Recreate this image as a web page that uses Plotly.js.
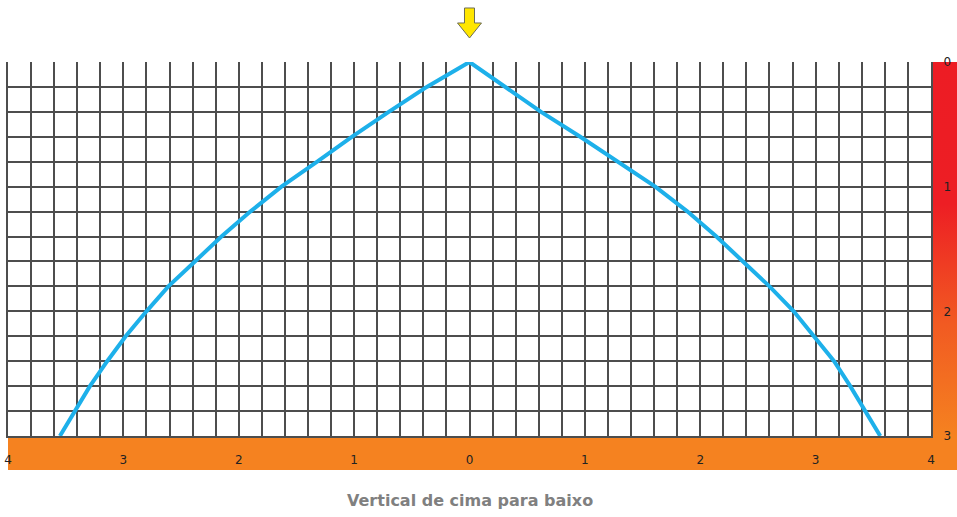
<!DOCTYPE html>
<html>
<head>
<meta charset="utf-8">
<script src="https://cdn.plot.ly/plotly-3.0.1.min.js"></script>
<style>html,body{margin:0;padding:0;background:#fff;}#chart{width:957px;height:517px;}</style>
</head>
<body>
<div id="chart"></div>
<script>
// Depth (vertical, from top to bottom) and horizontal positions of the curve
const depthLevels = [0, 0.2, 0.4, 0.6, 0.8, 1.0, 1.2, 1.4, 1.6, 1.8, 2.0, 2.2, 2.4, 2.6, 2.8, 3.0];
const leftX  = [0, -0.37, -0.70, -1.02, -1.32, -1.63, -1.90, -2.15, -2.38, -2.61, -2.80, -2.98, -3.14, -3.29, -3.42, -3.55];
const rightX = [0, 0.31, 0.62, 0.96, 1.28, 1.61, 1.89, 2.14, 2.37, 2.60, 2.81, 2.99, 3.16, 3.30, 3.43, 3.56];

const xTickVals = [-4, -3, -2, -1, 0, 1, 2, 3, 4];
const xTickText = ['4', '3', '2', '1', '0', '1', '2', '3', '4'];
const yTickVals = [0, 1, 2, 3];
const yTickText = ['0', '1', '2', '3'];
const titleText = 'Vertical de cima para baixo';

// curve: left branch reversed + right branch
const curveX = leftX.slice().reverse().concat(rightX.slice(1));
const curveY = depthLevels.slice().reverse().concat(depthLevels.slice(1));

const gradSvg = '<svg xmlns="http://www.w3.org/2000/svg" width="26" height="374" preserveAspectRatio="none">' +
  '<defs><linearGradient id="g" x1="0" y1="0" x2="0" y2="1">' +
  '<stop offset="0" stop-color="#ED1C24"/><stop offset="0.38" stop-color="#ED1E24"/>' +
  '<stop offset="0.7" stop-color="#F15A22"/><stop offset="1" stop-color="#F58220"/>' +
  '</linearGradient></defs><rect width="26" height="374" fill="url(#g)"/></svg>';
const gradSrc = 'data:image/svg+xml;base64,' + btoa(gradSvg);

const GRID = '#4d4d4d';
const gridStyle = {tickmode: 'linear', tick0: 0, dtick: 0.2, showgrid: true, gridcolor: GRID, gridwidth: 2, ticks: ''};

const traces = [{
  type: 'scatter', mode: 'lines',
  x: curveX, y: curveY,
  line: {color: '#1DB0EA', width: 4, shape: 'linear'},
  hoverinfo: 'skip'
}];

const layout = {
  width: 957, height: 517,
  margin: {l: 8, r: 26, t: 62, b: 81},
  paper_bgcolor: '#ffffff', plot_bgcolor: '#ffffff',
  showlegend: false,
  font: {family: 'DejaVu Sans, sans-serif', color: '#222'},
  xaxis: {
    range: [-4, 4],
    showgrid: true, gridcolor: GRID, gridwidth: 2,
    minor: gridStyle,
    zeroline: false, showline: true, linecolor: GRID, linewidth: 2, mirror: false,
    tickmode: 'array', tickvals: xTickVals, ticktext: xTickText,
    ticks: '', ticklabelstandoff: 12,
    tickfont: {size: 12, color: '#222'},
    fixedrange: true
  },
  yaxis: {
    range: [3, 0], side: 'right',
    showgrid: true, gridcolor: GRID, gridwidth: 2,
    minor: gridStyle,
    zeroline: false, showline: true, linecolor: GRID, linewidth: 2, mirror: true,
    tickmode: 'array', tickvals: yTickVals, ticktext: yTickText,
    ticks: '', ticklabelstandoff: 8,
    tickfont: {size: 12, color: '#222'},
    fixedrange: true
  },
  images: [{
    source: gradSrc, xref: 'paper', yref: 'paper',
    x: 1, y: 1, sizex: 26 / 923, sizey: 1,
    xanchor: 'left', yanchor: 'top', sizing: 'stretch', layer: 'below'
  }],
  shapes: [
    // bottom orange band
    {type: 'rect', xref: 'paper', yref: 'paper', x0: 0, x1: 949 / 923, y0: 0, y1: -34 / 374,
     fillcolor: '#F58220', line: {width: 0}, layer: 'below'},
    // yellow arrow
    {type: 'path', xref: 'paper', yref: 'paper',
     path: 'M 0.49458 1.14439 L 0.50542 1.14439 L 0.50542 1.10428 L 0.51300 1.10428 L 0.5 1.06417 L 0.48700 1.10428 L 0.49458 1.10428 Z',
     fillcolor: '#FFE600', line: {color: '#6d6d55', width: 1}}
  ],
  annotations: [{
    text: '<b>' + titleText + '</b>', xref: 'paper', yref: 'paper',
    x: 0.5, y: -64 / 374, xanchor: 'center', yanchor: 'middle', showarrow: false,
    font: {family: 'DejaVu Sans, sans-serif', size: 16, color: '#808080'}
  }]
};

Plotly.newPlot('chart', traces, layout, {displayModeBar: false, staticPlot: true});
</script>
</body>
</html>
